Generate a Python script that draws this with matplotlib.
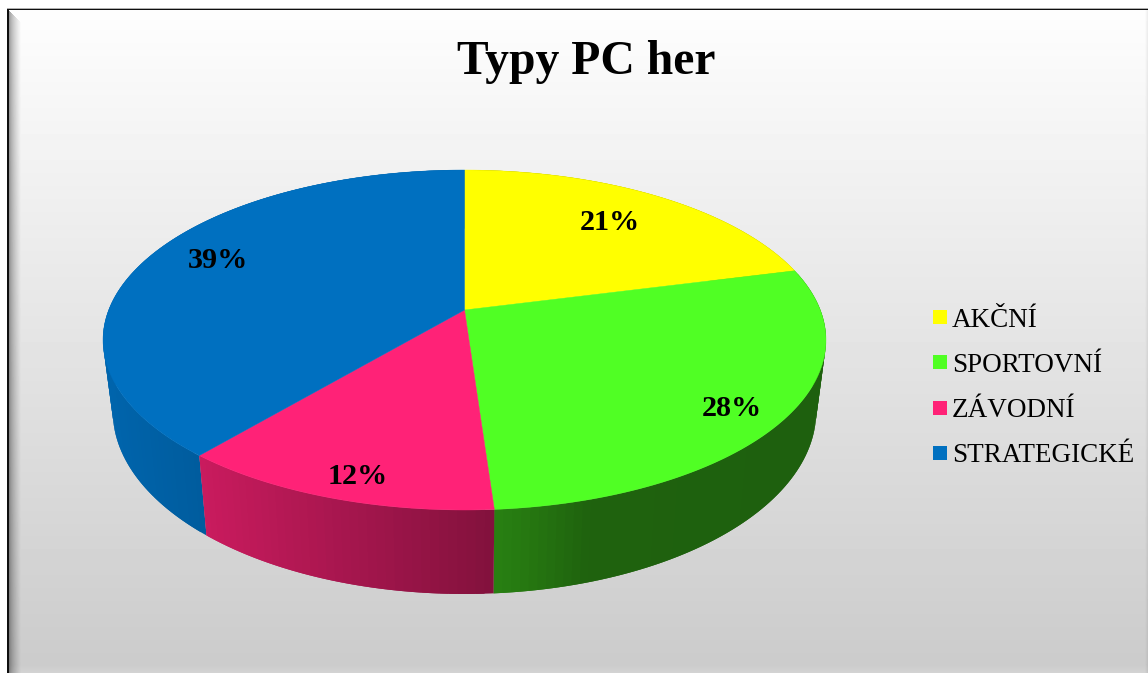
import numpy as np
import matplotlib
matplotlib.use("Agg")
import matplotlib.pyplot as plt
from matplotlib.collections import PolyCollection
from matplotlib.lines import Line2D
from matplotlib.patches import Polygon

TITLE = "Typy PC her"
categories = ["AKČNÍ", "SPORTOVNÍ", "ZÁVODNÍ", "STRATEGICKÉ"]
values = [21, 27.9, 12.25, 38.85]
colors = ["#FFFF00", "#50FF24", "#FF2277", "#0070C0"]
label_centres = [(610, 222), (732, 409), (358, 476), (218, 261)]

W, H = 1148, 673
plt.rcParams["font.family"] = ["Liberation Serif", "DejaVu Serif"]
fig = plt.figure(figsize=(W / 100, H / 100), dpi=100)
ax = fig.add_axes([0, 0, 1, 1])
ax.set_xlim(0, W)
ax.set_ylim(H, 0)
ax.axis("off")

# --- chart-area background: vertical gradient, bevels and frame
yy, xx = np.mgrid[0:H, 0:W].astype(float) + 0.5
bg = np.clip(253 - (yy - 30) * 0.077, 0, 255)
left = np.clip((xx - 9) / 12, 0, 1)
top = np.clip((yy - 10) / 12, 0, 1)
bottom = np.clip((H - yy) / 8, 0, 1)
right = np.clip((W - xx) / 3, 0, 1)
shade = 0.55 + 0.45 * left ** 0.6
shade = np.where(left < top, shade, 1.0)
bg = bg * shade
bg = np.where((top < 1) & (top <= left), 255 - (255 - bg) * top, bg)
bg = np.where(bottom < 1, bg + (1 - bottom) * 8, bg)
bg = bg * (0.93 + 0.07 * right)
bg[:9, :] = 255
bg[:, :7] = 255
bg[8, 7:] = 175
bg[9, 7:] = 15
bg[9:, 7:9] = 15
ax.imshow(np.clip(bg, 0, 255).astype(np.uint8), cmap="gray", vmin=0, vmax=255,
          extent=(0, W, H, 0), aspect="auto", zorder=0, interpolation="nearest")
ax.set_xlim(0, W)
ax.set_ylim(H, 0)

# --- perspective projection of the pie disc
CX, CY = 464.5, 310.0
K, A, C = 0.1765, 164.7, 355.8
SHRINK = 0.973


def project(theta):
    """Clockwise-from-top angle (radians) on the rim -> pixel position."""
    u, v = np.sin(theta), np.cos(theta)
    w = 1 + K * v
    return CX + C * u / w, CY - A * v / w


def lower(x, y):
    """Top-rim pixel -> matching pixel on the bottom rim."""
    return CX + SHRINK * (x - CX), y + 80 + (y - 457) * 0.075


def wall_factor(i, x):
    """Darkening of the side wall, by slice index and horizontal position."""
    if i == 1:
        return np.interp(x, [495, 510, 590, 830], [0.50, 0.49, 0.385, 0.375])
    if i == 2:
        return np.interp(x, [200, 494], [0.79, 0.51])
    if i == 3:
        return np.interp(x, [100, 150, 200], [0.90, 0.86, 0.82])
    return 0.6


shares = np.array(values, dtype=float) / sum(values)
edges = np.concatenate([[0], np.cumsum(shares)]) * 2 * np.pi

# Side wall: overlapping strips, painted in sequence so no seams appear.
for i in (0, 3, 1, 2):
    rgb = np.array(matplotlib.colors.to_rgb(colors[i]))
    n = max(int(shares[i] * 300), 8)
    ts = np.linspace(edges[i], edges[i + 1], n + 1)
    polys, fcols = [], []
    for j in range(n):
        a, b = ts[j], ts[min(j + 2, n)]
        mid = (ts[j] + ts[j + 1]) / 2
        arc = np.linspace(a, b, 6)
        xt, yt = project(arc)
        xb, yb = lower(xt, yt)
        polys.append(np.column_stack([np.r_[xt, xb[::-1]], np.r_[yt, yb[::-1]]]))
        fcols.append(rgb * wall_factor(i, project(mid)[0]))
    ax.add_collection(PolyCollection(polys, facecolors=fcols, edgecolors="none",
                                     linewidths=0, zorder=2))

for i, col in enumerate(colors):
    ts = np.linspace(edges[i], edges[i + 1], 200)
    rx, ry = project(ts)
    pts = np.column_stack([np.r_[CX, rx], np.r_[CY, ry]])
    ax.add_patch(Polygon(pts, closed=True, facecolor=col, edgecolor=col,
                         linewidth=0.3, zorder=3))

for (lx, ly), val in zip(label_centres, values):
    ax.text(lx, ly, f"{round(val)}%", ha="center", va="center", fontsize=21.7,
            fontweight="bold", color="black", zorder=4)

ax.text(586, 62, TITLE, ha="center", va="center", fontsize=34.3,
        fontweight="bold", color="black", zorder=4)

handles = [Line2D([], [], linestyle="none", marker="s", markersize=10,
                  markerfacecolor=c, markeredgecolor=c, markeredgewidth=0)
           for c in colors]
leg = ax.legend(handles, categories, loc="center left",
                bbox_to_anchor=(931.5 / W, 1 - 388 / H), frameon=False,
                fontsize=19.5, labelspacing=0.74, handlelength=0.6,
                handletextpad=0.16, borderpad=0, borderaxespad=0)
leg.set_zorder(4)

fig.savefig("out.png", dpi=100)
